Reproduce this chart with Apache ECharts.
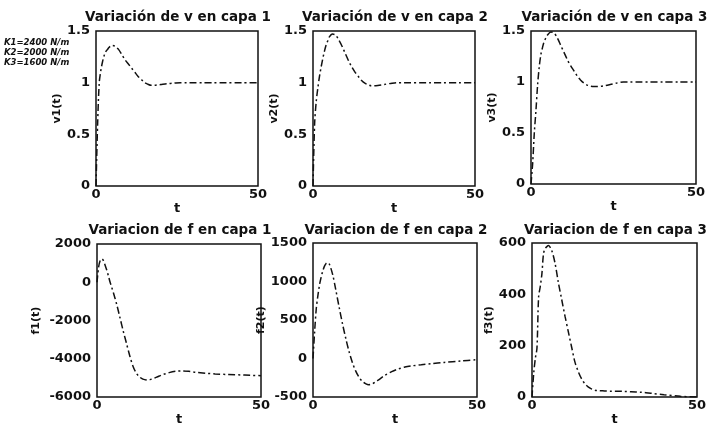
<!DOCTYPE html>
<html>
<head>
    <meta charset="utf-8">
    <title>Variación de v y f por capa</title>
    <script src="https://cdn.jsdelivr.net/npm/echarts@6/dist/echarts.min.js"></script>
</head>
<body style="margin:0;background:#fff;">
<div id="main" style="width: 711px;height:427px;"></div>
<script type="text/javascript">
    // tiempo (s)
    const t = [0, 0.5, 1, 1.5, 2, 2.5, 3, 3.5, 4, 4.5, 5, 6, 7, 8, 9, 10, 11, 12, 13, 14, 15, 16, 17, 18, 19, 20, 22, 24, 26, 28, 30, 33, 36, 40, 45, 50];

    // velocidades
    const v1 = [0, 0.6, 1.0, 1.12, 1.2, 1.26, 1.3, 1.32, 1.34, 1.355, 1.36, 1.35, 1.32, 1.27, 1.22, 1.18, 1.14, 1.1, 1.06, 1.03, 1.0, 0.985, 0.975, 0.975, 0.978, 0.982, 0.99, 0.995, 1.0, 1.0, 1.0, 1.0, 1.0, 1.0, 1.0, 1.0];
    const v2 = [0, 0.6, 0.82, 0.95, 1.06, 1.15, 1.23, 1.3, 1.36, 1.4, 1.44, 1.47, 1.46, 1.41, 1.35, 1.28, 1.21, 1.15, 1.1, 1.06, 1.02, 0.995, 0.98, 0.97, 0.97, 0.973, 0.983, 0.993, 1.0, 1.0, 1.0, 1.0, 1.0, 1.0, 1.0, 1.0];
    const v3 = [0, 0.2, 0.5, 0.72, 0.97, 1.15, 1.27, 1.34, 1.4, 1.43, 1.46, 1.49, 1.48, 1.43, 1.36, 1.29, 1.22, 1.16, 1.11, 1.06, 1.02, 0.99, 0.97, 0.96, 0.955, 0.955, 0.962, 0.975, 0.99, 1.0, 1.0, 1.0, 1.0, 1.0, 1.0, 1.0];

    // fuerzas
    const f1 = [0, 800, 1150, 1220, 1120, 880, 620, 320, 0, -270, -550, -1150, -1850, -2550, -3200, -3850, -4400, -4750, -4950, -5060, -5100, -5090, -5040, -4970, -4900, -4830, -4720, -4650, -4630, -4650, -4700, -4750, -4790, -4820, -4850, -4880];
    const f2 = [0, 350, 650, 820, 960, 1060, 1140, 1200, 1235, 1245, 1225, 1090, 880, 660, 450, 260, 90, -50, -160, -240, -295, -325, -340, -330, -305, -275, -215, -170, -135, -110, -95, -80, -66, -50, -32, -15];
    const f3 = [0, 90, 150, 190, 390, 430, 480, 560, 578, 586, 590, 570, 520, 445, 380, 315, 255, 195, 137, 100, 72, 52, 40, 32, 27, 25, 24, 23, 23, 22, 21, 19, 15, 9, 3, 0];

    const titles = ['Variación de v en capa 1', 'Variación de v en capa 2', 'Variación de v en capa 3',
        'Variacion de f en capa 1', 'Variacion de f en capa 2', 'Variacion de f en capa 3'];
    const yNames = ['v1(t)', 'v2(t)', 'v3(t)', 'f1(t)', 'f2(t)', 'f3(t)'];
    const yMin = [0, 0, 0, -6000, -500, 0];
    const yMax = [1.5, 1.5, 1.5, 2000, 1500, 600];
    const yStep = [0.5, 0.5, 0.5, 2000, 500, 200];
    const notes = ['K1=2400 N/m', 'K2=2000 N/m', 'K3=1600 N/m'];

    const values = [v1, v2, v3, f1, f2, f3];

    // posicion de cada subgrafico
    const boxes = [
        {left: 96, top: 31, width: 162, height: 155},
        {left: 313, top: 31, width: 162, height: 155},
        {left: 531, top: 31, width: 165, height: 153},
        {left: 97, top: 244, width: 164, height: 158},
        {left: 313, top: 243, width: 164, height: 159},
        {left: 532, top: 243, width: 165, height: 158}
    ];
    const nameGaps = [33, 30, 27, 55, 30, 29];

    const font = 'DejaVu Sans, Verdana, sans-serif';
    const chart = echarts.init(document.getElementById('main'));

    const option = {
        backgroundColor: '#fff',
        animation: false,
        title: [],
        grid: [],
        xAxis: [],
        yAxis: [],
        series: [],
        graphic: []
    };

    for (let i = 0; i < 6; i++) {
        const b = boxes[i];
        option.title.push({
            text: titles[i],
            left: b.left + b.width / 2 - 4,
            top: i < 3 ? 5 : 218,
            textAlign: 'center',
            textStyle: {fontFamily: font, fontSize: 13.5, fontWeight: 'bold', color: '#111'}
        });
        option.grid.push({
            left: b.left, top: b.top, width: b.width, height: b.height,
            show: true, borderColor: '#111', borderWidth: 1.5, backgroundColor: '#fff'
        });
        option.xAxis.push({
            type: 'value', gridIndex: i, min: 0, max: 50, interval: 50,
            name: 't', nameLocation: 'middle', nameGap: 11,
            nameTextStyle: {fontFamily: font, fontSize: 13, fontWeight: 'bold', color: '#111'},
            axisLine: {show: false}, axisTick: {show: false}, splitLine: {show: false},
            axisLabel: {fontFamily: font, fontSize: 13, fontWeight: 'bold', color: '#111', margin: 2,
                showMinLabel: true, showMaxLabel: true}
        });
        option.yAxis.push({
            type: 'value', gridIndex: i, min: yMin[i], max: yMax[i], interval: yStep[i],
            name: yNames[i], nameLocation: 'middle', nameGap: nameGaps[i], nameRotate: 90,
            nameTextStyle: {fontFamily: font, fontSize: 11, fontWeight: 'bold', color: '#111'},
            axisLine: {show: false}, axisTick: {show: false}, splitLine: {show: false},
            axisLabel: {fontFamily: font, fontSize: 13, fontWeight: 'bold', color: '#111', margin: 6,
                formatter: v => String(v)}
        });
        option.series.push({
            type: 'line', xAxisIndex: i, yAxisIndex: i,
            data: t.map((x, k) => [x, values[i][k]]),
            showSymbol: false, smooth: 0.3,
            lineStyle: {color: '#111', width: 1.5, type: [7, 3, 2, 3]}
        });
    }

    notes.forEach((s, k) => {
        option.graphic.push({
            type: 'text', left: 4, top: 38 + k * 10,
            style: {text: s, fontFamily: font, fontSize: 8.5, fontWeight: 'bold', fontStyle: 'italic', fill: '#111'}
        });
    });

    chart.setOption(option);
</script>
</body>
</html>
